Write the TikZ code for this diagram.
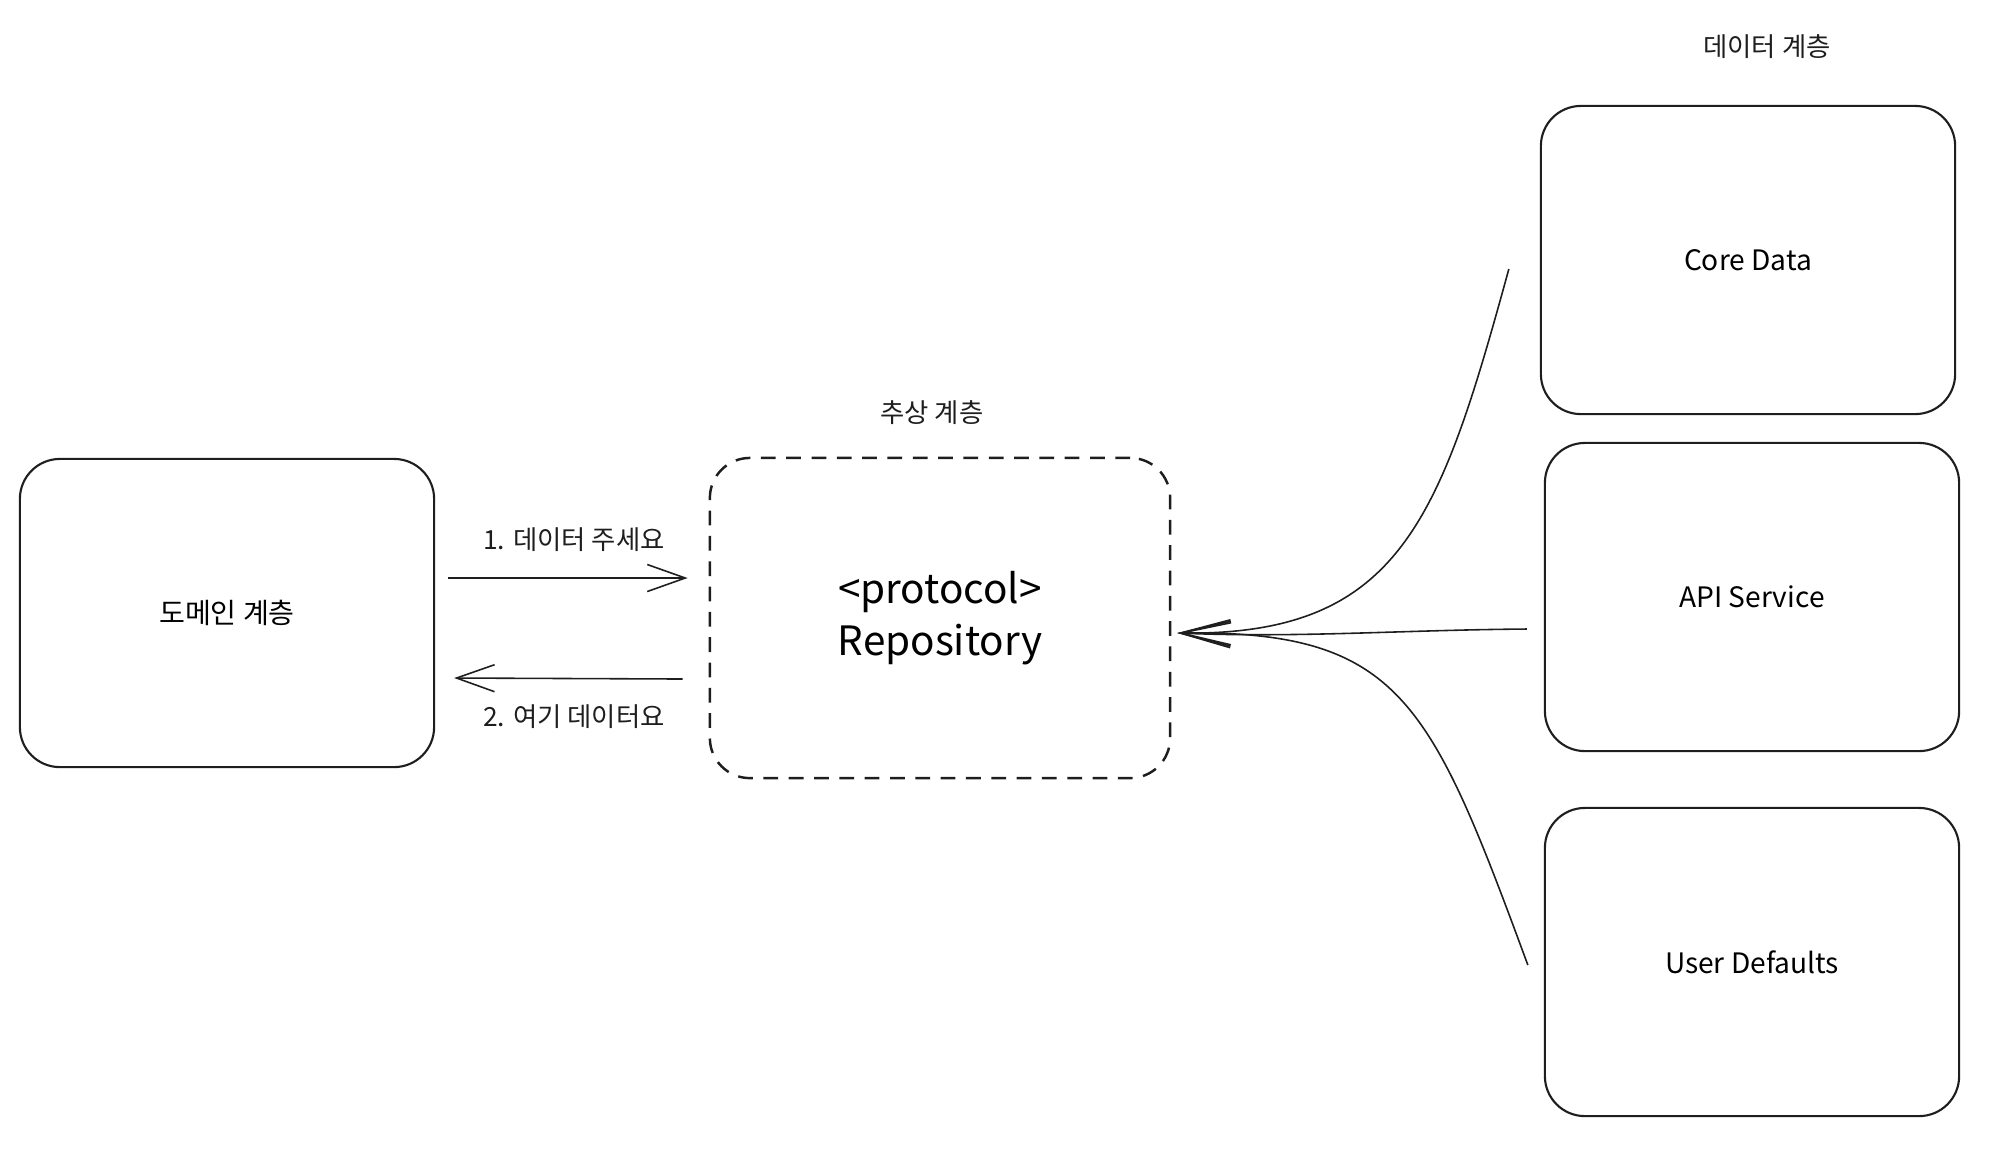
\documentclass[tikz,border=0pt]{standalone}
\usepackage{fontspec}
\setmainfont{Noto Sans CJK KR}
\usetikzlibrary{arrows.meta}
\definecolor{ink}{HTML}{1E1E1E}
\tikzset{
  layer/.style={draw=ink, line width=0.6pt, rounded corners=0.4cm, minimum width=4.14cm, minimum height=3.08cm, align=center, font=\fontsize{8}{10}\selectfont},
  abstract/.style={layer, dashed, dash pattern=on 4.2pt off 3pt, line width=0.7pt, minimum width=4.6cm, minimum height=3.2cm, font=\fontsize{11.5}{15}\selectfont},
  caption/.style={font=\fontsize{7.5}{9}\selectfont, text=ink},
  call/.style={draw=ink, line width=0.45pt, -{Straight Barb[length=0.38cm,width=0.27cm]}},
  feed/.style={draw=ink, line width=0.45pt, -{Straight Barb[length=0.5cm,width=0.25cm]}}
}
\begin{document}
\begin{tikzpicture}[x=0.01cm,y=-0.01cm]
        \useasboundingbox (0,0) rectangle (2000,1156);
        % layers
        \node[layer] (domain) at (227,613) {도메인 계층};
        \node[abstract] (repo) at (940,618) {<protocol>\\Repository};
        \node[layer] (coredata) at (1748,260) {Core Data};
        \node[layer] (api) at (1752,597) {API Service};
        \node[layer] (userdefaults) at (1752,962) {User Defaults};
        % layer names
        \node[caption] (absname) at (932,413) {추상 계층};
        \node[caption] (dataname) at (1767,47) {데이터 계층};
        % request and response
        \node[caption] (askname) at (574,540) {1. 데이터 주세요};
        \node[caption] (givename) at (574,717) {2. 여기 데이터요};
        \draw[call] ([shift={(13,-35)}]domain.east) -- ([shift={(-21,-40)}]repo.west);
        \draw[call] ([shift={(-26,61)}]repo.west) -- ([shift={(19,65)}]domain.east);
        % data sources into the repository
        \draw[feed] ([shift={(-31,9)}]coredata.west) .. controls (1440,520) and (1400,636) .. ([shift={(6,15)}]repo.east);
        \draw[feed] ([shift={(-17,32)}]api.west) .. controls (1400,630) and (1300,638) .. ([shift={(6,15)}]repo.east);
        \draw[feed] ([shift={(-16,3)}]userdefaults.west) .. controls (1430,700) and (1400,630) .. ([shift={(6,15)}]repo.east);
\end{tikzpicture}
\end{document}
